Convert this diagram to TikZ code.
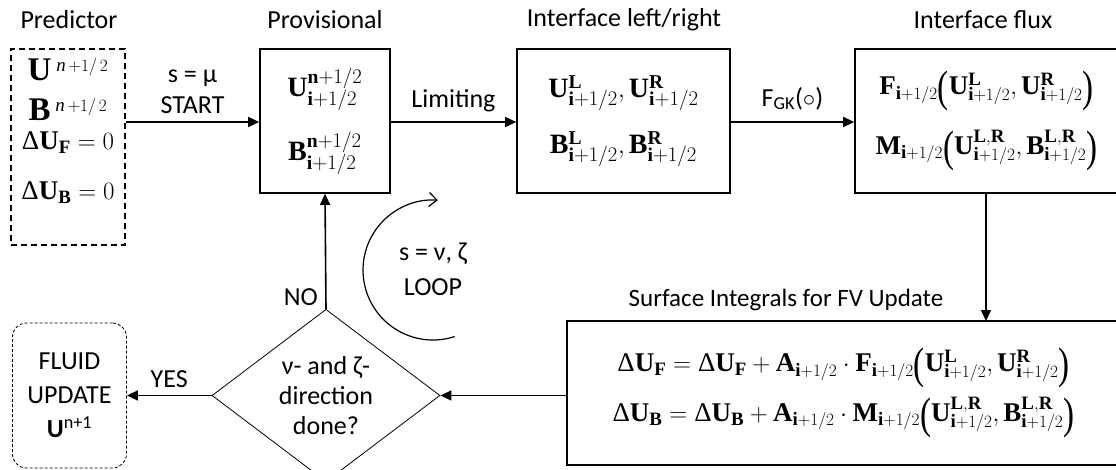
\documentclass[tikz,border=0pt]{standalone}
\usepackage{fontspec}
\setmainfont{Carlito}
\setmathrm{Liberation Serif}
\newfontfamily\tnr{Liberation Serif}
\usetikzlibrary{arrows.meta, shapes.geometric}

\newcommand{\bfm}[1]{\mathbf{#1}}
\newcommand{\dlt}{\mbox{\tnr Δ}}
\newcommand{\ih}{\bfm{i}+1/2}
\newcommand{\bigsym}[1]{{\fontsize{33}{33}\selectfont$\bfm{#1}$}}
\newcommand{\lpar}{\mathopen{\raisebox{-7pt}{\scalebox{0.75}[1]{\fontsize{44}{44}\tnr(}}}}
\newcommand{\rpar}{\mathclose{\raisebox{-7pt}{\scalebox{0.75}[1]{\fontsize{44}{44}\tnr)}}}}

\begin{document}
\begin{tikzpicture}[x=1pt, y=1pt,
  box/.style={draw, line width=1.6pt, inner sep=0pt, align=center, font=\fontsize{28}{34}\selectfont},
  flow/.style={-{Triangle[length=11pt, width=10pt]}, line width=1.6pt},
  lbl/.style={font=\fontsize{26}{31}\selectfont, align=center}]

\useasboundingbox (0,0) rectangle (1116,-470);

% column titles
\node[lbl] at (69,-20) {Predictor};
\node[lbl] at (325,-20) {Provisional};
\node[lbl] at (624,-20) {Interface left/right};
\node[lbl] at (983,-20) {Interface flux};
\node[lbl, font=\fontsize{25}{30}\selectfont] at (786,-300) {Surface Integrals for FV Update};

% boxes
\node[box, dashed, dash pattern=on 6pt off 4pt, minimum width=114pt, minimum height=196pt, font=\fontsize{27}{28}\selectfont] (pred) at (68,-147)
  {\bigsym{U}$^{\;\mathit{n}\,+1/\,2}$\\[12pt] \bigsym{B}$^{\;\mathit{n}\,+1/\,2}$\\[1pt] $\dlt\bfm{U}_{\bfm{F}}=0$\\[22pt] $\dlt\bfm{U}_{\bfm{B}}=0$\\[8pt]\mbox{}};
\node[box, minimum width=130pt, minimum height=144pt] (prov) at (325,-121)
  {$\bfm{U}^{\bfm{n}+1/2}_{\ih}$\\[20pt] $\bfm{B}^{\bfm{n}+1/2}_{\ih}$};
\node[box, minimum width=213pt, minimum height=144pt] (ilr) at (623.5,-121)
  {$\bfm{U}^{\bfm{L}}_{\ih},\bfm{U}^{\bfm{R}}_{\ih}$\\[20pt] $\bfm{B}^{\bfm{L}}_{\ih},\bfm{B}^{\bfm{R}}_{\ih}$};
\node[box, minimum width=263pt, minimum height=144pt, font=\fontsize{27}{33}\selectfont] (flux) at (986.5,-121)
  {$\bfm{F}_{\ih}\lpar\bfm{U}^{\bfm{L}}_{\ih},\bfm{U}^{\bfm{R}}_{\ih}\rpar$\\[18pt]
   $\bfm{M}_{\ih}\lpar\bfm{U}^{\bfm{L,R}}_{\ih},\bfm{B}^{\bfm{L,R}}_{\ih}\rpar$};
\node[box, minimum width=553pt, minimum height=144pt, font=\fontsize{27}{33}\selectfont] (surf) at (843.5,-393)
  {$\dlt\bfm{U}_{\bfm{F}}=\dlt\bfm{U}_{\bfm{F}}+\bfm{A}_{\ih}\cdot\bfm{F}_{\ih}\lpar\bfm{U}^{\bfm{L}}_{\ih},\bfm{U}^{\bfm{R}}_{\ih}\rpar$\\[8pt]
   $\dlt\bfm{U}_{\bfm{B}}=\dlt\bfm{U}_{\bfm{B}}+\bfm{A}_{\ih}\cdot\bfm{M}_{\ih}\lpar\bfm{U}^{\bfm{L,R}}_{\ih},\bfm{B}^{\bfm{L,R}}_{\ih}\rpar$};
\node[draw, line width=0.8pt, diamond, minimum width=228pt, minimum height=143pt, inner sep=0pt, lbl, font=\fontsize{26}{30}\selectfont] (done) at (326,-395.5)
  {ν- and ζ-\\direction\\done?};
\node[draw, line width=0.8pt, dashed, dash pattern=on 3pt off 2pt, rounded corners=14pt, minimum width=114pt, minimum height=145pt, lbl, font=\fontsize{26}{34}\selectfont] (fluid) at (69.5,-395.5)
  {FLUID\\UPDATE\\\textbf{U}\textsuperscript{n+1}};

% connectors
\draw[flow] (pred.east |- 0,-122) -- node[lbl, above=4pt] {s = μ\\START} (prov.west |- 0,-122);
\draw[flow] (prov.east |- 0,-122) -- node[lbl, above=6pt] {Limiting} (ilr.west |- 0,-122);
\draw[flow] (ilr.east |- 0,-122) -- node[lbl, above=8pt] {F\textsubscript{GK}($\circ$)} (flux.west |- 0,-122);
\draw[flow] (986,-193) -- (986,-321);
\draw[flow] (surf.west |- done.east) -- (done.east);
\draw[flow] (done.west) -- node[lbl, above=4pt] {YES} (fluid.east |- done.west);
\draw[flow] (done.north) -- node[lbl, left=4pt, pos=0.1] {NO} (prov.south);

% loop arrow
\draw[line width=1.2pt, -{Straight Barb[length=8pt, width=14pt]}] (433,-270) ++(-72:70) arc[start angle=-72, end angle=-274, radius=70];
\node[lbl] at (433,-254) {s = ν, ζ};
\node[lbl] at (433,-287) {LOOP};
\end{tikzpicture}
\end{document}
